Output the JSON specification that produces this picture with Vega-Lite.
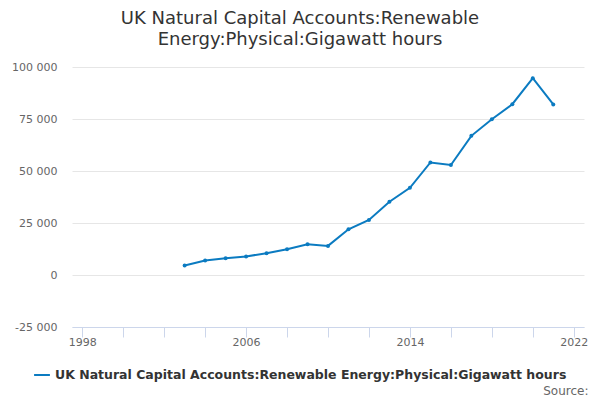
{
  "$schema": "https://vega.github.io/schema/vega-lite/v6.json",
  "autosize": {"type": "none"},
  "width": 512,
  "height": 260,
  "padding": {"left": 72, "top": 67, "right": 16, "bottom": 73},
  "background": "white",
  "config": {
    "font": "DejaVu Sans",
    "view": {"stroke": null},
    "locale": {"number": {"decimal": ".", "thousands": " ", "grouping": [3], "currency": ["", ""], "minus": "-"}}
  },
  "title": {
    "text": ["UK Natural Capital Accounts:Renewable", "Energy:Physical:Gigawatt hours"],
    "fontSize": 18,
    "fontWeight": "normal",
    "color": "#333333",
    "anchor": "middle",
    "frame": "group",
    "dx": -28,
    "offset": 12,
    "lineHeight": 21
  },
  "data": {
    "values": [
      {"year": 2003, "value": 4600, "series": "UK Natural Capital Accounts:Renewable Energy:Physical:Gigawatt hours"},
      {"year": 2004, "value": 7000, "series": "UK Natural Capital Accounts:Renewable Energy:Physical:Gigawatt hours"},
      {"year": 2005, "value": 8000, "series": "UK Natural Capital Accounts:Renewable Energy:Physical:Gigawatt hours"},
      {"year": 2006, "value": 8900, "series": "UK Natural Capital Accounts:Renewable Energy:Physical:Gigawatt hours"},
      {"year": 2007, "value": 10500, "series": "UK Natural Capital Accounts:Renewable Energy:Physical:Gigawatt hours"},
      {"year": 2008, "value": 12400, "series": "UK Natural Capital Accounts:Renewable Energy:Physical:Gigawatt hours"},
      {"year": 2009, "value": 14800, "series": "UK Natural Capital Accounts:Renewable Energy:Physical:Gigawatt hours"},
      {"year": 2010, "value": 14000, "series": "UK Natural Capital Accounts:Renewable Energy:Physical:Gigawatt hours"},
      {"year": 2011, "value": 22000, "series": "UK Natural Capital Accounts:Renewable Energy:Physical:Gigawatt hours"},
      {"year": 2012, "value": 26500, "series": "UK Natural Capital Accounts:Renewable Energy:Physical:Gigawatt hours"},
      {"year": 2013, "value": 35200, "series": "UK Natural Capital Accounts:Renewable Energy:Physical:Gigawatt hours"},
      {"year": 2014, "value": 41900, "series": "UK Natural Capital Accounts:Renewable Energy:Physical:Gigawatt hours"},
      {"year": 2015, "value": 54100, "series": "UK Natural Capital Accounts:Renewable Energy:Physical:Gigawatt hours"},
      {"year": 2016, "value": 52900, "series": "UK Natural Capital Accounts:Renewable Energy:Physical:Gigawatt hours"},
      {"year": 2017, "value": 66900, "series": "UK Natural Capital Accounts:Renewable Energy:Physical:Gigawatt hours"},
      {"year": 2018, "value": 74900, "series": "UK Natural Capital Accounts:Renewable Energy:Physical:Gigawatt hours"},
      {"year": 2019, "value": 82100, "series": "UK Natural Capital Accounts:Renewable Energy:Physical:Gigawatt hours"},
      {"year": 2020, "value": 94600, "series": "UK Natural Capital Accounts:Renewable Energy:Physical:Gigawatt hours"},
      {"year": 2021, "value": 82000, "series": "UK Natural Capital Accounts:Renewable Energy:Physical:Gigawatt hours"}
    ]
  },
  "mark": {"type": "line", "strokeWidth": 2, "point": {"filled": true, "size": 16}},
  "encoding": {
    "x": {
      "field": "year",
      "type": "quantitative",
      "scale": {"domain": [1997.5, 2022.5], "nice": false, "zero": false},
      "axis": {
        "values": [1998, 2000, 2002, 2004, 2006, 2008, 2010, 2012, 2014, 2016, 2018, 2020, 2022],
        "format": "d",
        "labelExpr": "(datum.value - 1998) % 8 == 0 ? datum.label : ''",
        "grid": false,
        "domainColor": "#ccd6eb",
        "tickColor": "#ccd6eb",
        "tickSize": 10,
        "labelPadding": -1,
        "labelFontSize": 11,
        "labelColor": "#666666",
        "labelFlush": false,
        "labelOverlap": false,
        "title": "Source:",
        "titleAnchor": "end",
        "titleAlign": "right",
        "titleX": 516,
        "titleY": 63,
        "titleBaseline": "middle",
        "titleFontSize": 12,
        "titleFontWeight": "normal",
        "titleColor": "#666666"
      }
    },
    "y": {
      "field": "value",
      "type": "quantitative",
      "scale": {"domain": [-25000, 100000], "nice": false},
      "axis": {
        "values": [-25000, 0, 25000, 50000, 75000, 100000],
        "grid": true,
        "gridColor": "#e6e6e6",
        "domain": false,
        "ticks": false,
        "labelPadding": 15,
        "labelFontSize": 11,
        "labelColor": "#666666",
        "title": null
      }
    },
    "color": {
      "field": "series",
      "type": "nominal",
      "scale": {"range": ["#0b7bc1"]},
      "legend": {
        "orient": "none",
        "legendX": -39,
        "legendY": 299,
        "title": null,
        "symbolType": "stroke",
        "symbolStrokeWidth": 2,
        "symbolSize": 250,
        "labelFontSize": 12.5,
        "labelFontWeight": "bold",
        "labelColor": "#333333",
        "labelLimit": 0
      }
    }
  }
}
